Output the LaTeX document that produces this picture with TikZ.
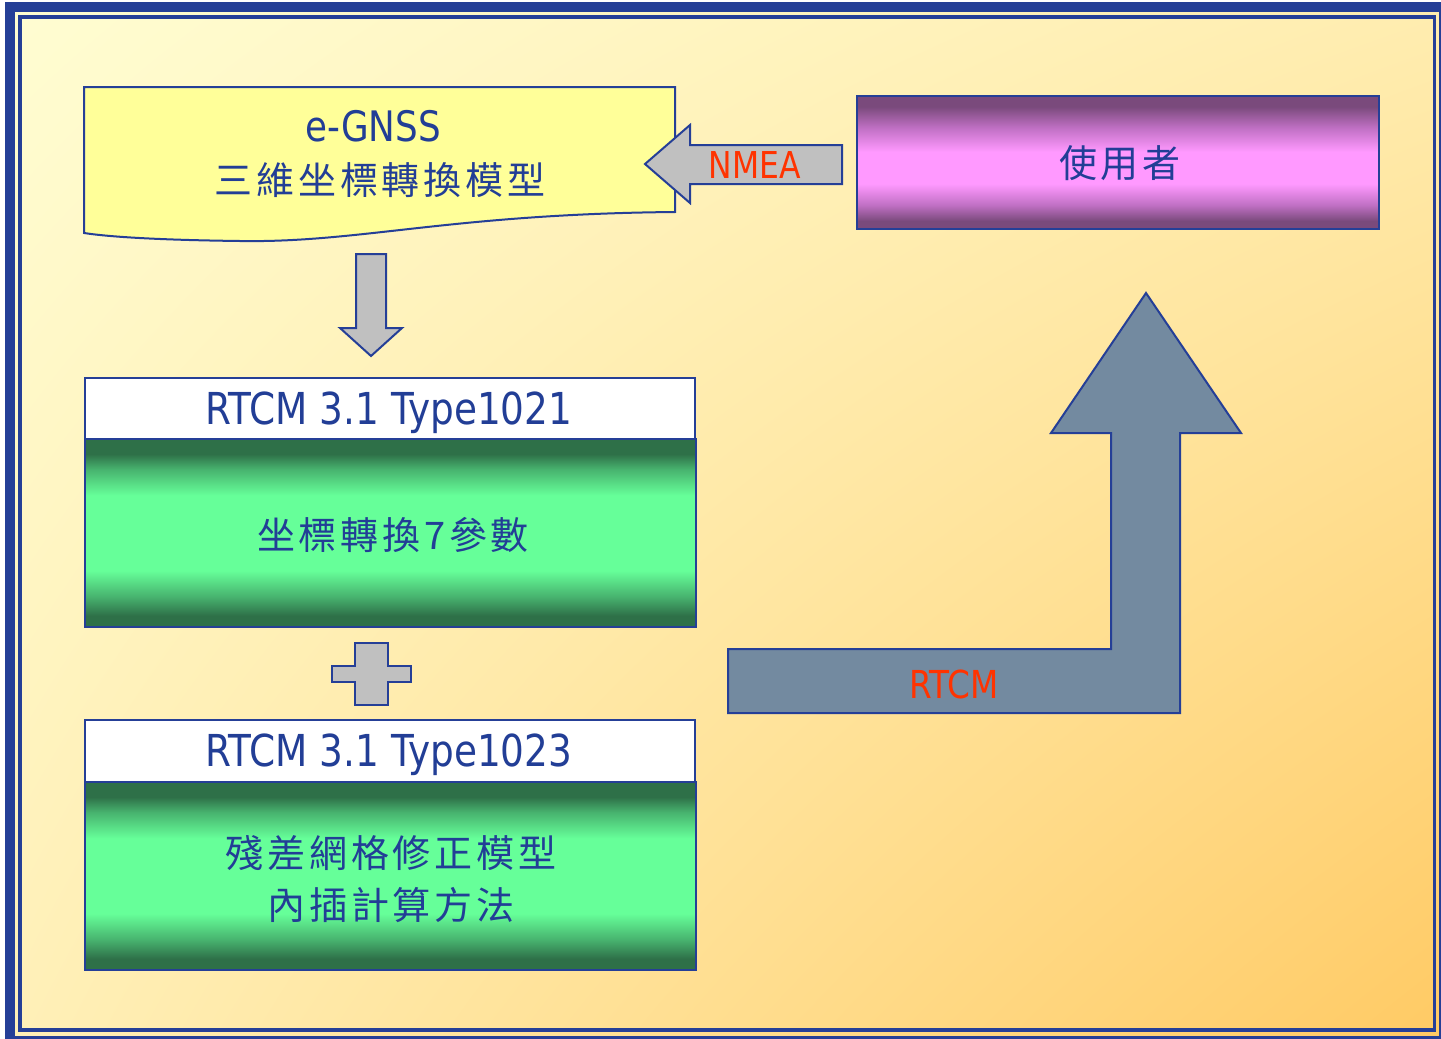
\documentclass[tikz,border=0pt]{standalone}
\usepackage{fontspec}
\usetikzlibrary{shadings}
\setmainfont{DejaVu Sans}[FakeStretch=0.85]
\newfontfamily\cjk{Noto Sans CJK TC}[LetterSpace=10]
\definecolor{frameblue}{HTML}{253F97}
\definecolor{txtblue}{HTML}{223E96}
\definecolor{txtred}{HTML}{FF3300}
\definecolor{bgTL}{HTML}{FFFDD2}
\definecolor{bgTR}{HTML}{FFEDB0}
\definecolor{bgBL}{HTML}{FFF0B8}
\definecolor{bgBR}{HTML}{FFCA64}
\definecolor{docfill}{HTML}{FFFF99}
\definecolor{arrgray}{HTML}{C0C0C0}
\definecolor{slate}{HTML}{738AA0}
\definecolor{gD}{HTML}{2E7048}
\definecolor{gM}{HTML}{47B26E}
\definecolor{gL}{HTML}{66FF99}
\definecolor{pD}{HTML}{7A4A7C}
\definecolor{pM}{HTML}{C070C4}
\definecolor{pL}{HTML}{FF99FF}
\pgfdeclareverticalshading{greenbar}{100bp}{color(0bp)=(gD); color(25bp)=(gD); color(28bp)=(gD); color(33bp)=(gM); color(40bp)=(gL); color(60bp)=(gL); color(67bp)=(gM); color(71bp)=(gD); color(75bp)=(gD); color(100bp)=(gD)}
\pgfdeclareverticalshading{purplebar}{100bp}{color(0bp)=(pD); color(25bp)=(pD); color(28bp)=(pD); color(34bp)=(pM); color(42bp)=(pL); color(54bp)=(pL); color(63bp)=(pM); color(71bp)=(pD); color(75bp)=(pD); color(100bp)=(pD)}
\begin{document}
\begin{tikzpicture}[x=1pt,y=-1pt,line join=miter,
  outl/.style={draw=frameblue,line width=2pt},
  blockarrow/.style={outl,fill=arrgray},
  latin/.style={text=txtblue,font=\fontsize{44}{50}\selectfont,inner sep=0pt},
  cjktxt/.style={text=txtblue,font=\cjk\fontsize{38}{52}\selectfont,inner sep=0pt,align=center},
  redlbl/.style={text=txtred,font=\fontsize{37}{42}\selectfont,inner sep=0pt},
  hdrbox/.style={outl,fill=white,anchor=north west,inner sep=0pt,minimum width=610pt},
  greenbox/.style={outl,shading=greenbar,anchor=north west,inner sep=0pt,minimum width=611pt,minimum height=188pt}]
\useasboundingbox (0,0) rectangle (1441,1039);
\clip (0,0) rectangle (1441,1039);
\fill[white] (0,0) rectangle (1441,1039);
\shade[upper left=bgTL,upper right=bgTR,lower left=bgBL,lower right=bgBR] (5,2) rectangle (1441,1039);
\draw[frameblue,line width=10pt] (10,7) rectangle (1444,1041);
\draw[frameblue,line width=3.5pt] (20,17) rectangle (1434.5,1030);
% document shape
\draw[outl,fill=docfill] (84,87) -- (675,87) -- (675,212)
  .. controls (450,214) and (360,243) .. (240,241)
  .. controls (160,240) and (110,237) .. (84,233) -- cycle;
\node[latin,font=\fontsize{42}{46}\selectfont] (egnss) at (373,126) {e-GNSS};
\node[cjktxt] (model) at (380,180) {三維坐標轉換模型};
% user box
\node[outl,shading=purplebar,anchor=north west,inner sep=0pt,minimum width=522pt,minimum height=133pt] (user) at (856,95) {};
\node[cjktxt] (usertxt) at (1120,163) {使用者};
% NMEA arrow
\draw[blockarrow] (842,145) -- (690,145) -- (690,125) -- (645,164) -- (690,203) -- (690,184) -- (842,184) -- cycle;
\node[redlbl] (nmea) at (755,165) {NMEA};
% down arrow
\draw[blockarrow] (356,254) -- (386,254) -- (386,328) -- (402,328) -- (371,356) -- (340,328) -- (356,328) -- cycle;
% type1021
\node[hdrbox,minimum height=61pt] (h1) at (84,377) {};
\node[latin] (h1txt) at (389,413) {RTCM 3.1 Type1021};
\node[greenbox] (g1) at (84,438) {};
\node[cjktxt] (g1txt) at (393,535) {坐標轉換7參數};
% plus
\draw[blockarrow] (355,643) -- (388,643) -- (388,666) -- (411,666) -- (411,682) -- (388,682) -- (388,705) -- (355,705) -- (355,682) -- (332,682) -- (332,666) -- (355,666) -- cycle;
% type1023
\node[hdrbox,minimum height=62pt] (h2) at (84,719) {};
\node[latin] (h2txt) at (389,755) {RTCM 3.1 Type1023};
\node[greenbox] (g2) at (84,781) {};
\node[cjktxt] (g2txt) at (391,879) {殘差網格修正模型\\內插計算方法};
% big RTCM arrow
\draw[outl,fill=slate] (728,649) -- (1111,649) -- (1111,433) -- (1051,433) -- (1146,293) -- (1241,433) -- (1180,433) -- (1180,713) -- (728,713) -- cycle;
\node[redlbl,font=\fontsize{38.5}{42}\selectfont] (rtcm) at (954,684) {RTCM};
\end{tikzpicture}
\end{document}
